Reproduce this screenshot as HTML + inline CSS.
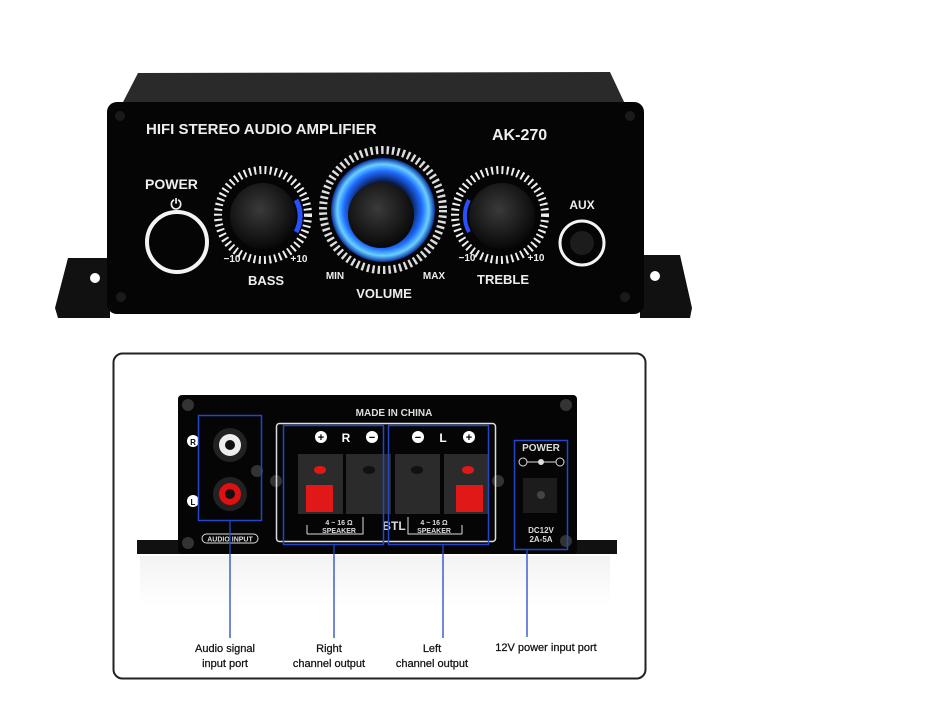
<!DOCTYPE html>
<html><head><meta charset="utf-8"><style>
html,body{margin:0;padding:0;background:#fff;width:950px;height:728px;overflow:hidden}
svg{display:block}
text{font-family:"Liberation Sans",sans-serif}
</style></head><body>
<svg width="950" height="728" viewBox="0 0 950 728" xmlns="http://www.w3.org/2000/svg">
<defs>
<radialGradient id="knob" cx="45%" cy="40%" r="60%"><stop offset="0" stop-color="#3a3a3a"/><stop offset="1" stop-color="#080808"/></radialGradient>
<radialGradient id="blue" cx="50%" cy="50%" r="50%"><stop offset="0.55" stop-color="#0a1a50"/><stop offset="0.75" stop-color="#1e6cff"/><stop offset="0.88" stop-color="#6ad0ff"/><stop offset="1" stop-color="#0830a0"/></radialGradient>
<linearGradient id="ref" x1="0" y1="0" x2="0" y2="1"><stop offset="0" stop-color="#e6e6e6"/><stop offset="1" stop-color="#fff"/></linearGradient>
</defs>
<!-- TOP AMP -->
<path d="M55 308 L68 258 L110 258 L110 318 L58 318 Z" fill="#111"/>
<path d="M692 308 L680 255 L640 255 L640 318 L690 318 Z" fill="#111"/>
<circle cx="95" cy="278" r="5" fill="#fff"/><circle cx="655" cy="276" r="5" fill="#fff"/>
<path d="M138 73 L610 72 L625 104 L122 104 Z" fill="#2a2a2a"/>
<rect x="107" y="102" width="537" height="212" rx="10" fill="#050505"/>
<circle cx="120" cy="116" r="5" fill="#1a1a1a"/><circle cx="630" cy="116" r="5" fill="#1a1a1a"/>
<circle cx="121" cy="297" r="5" fill="#1a1a1a"/><circle cx="625" cy="297" r="5" fill="#1a1a1a"/>
<text x="146" y="134" fill="#eee" font-size="15" font-weight="bold">HIFI STEREO AUDIO AMPLIFIER</text>
<text x="492" y="140" fill="#eee" font-size="16" font-weight="bold">AK-270</text>
<text x="145" y="189" fill="#eee" font-size="14" font-weight="bold">POWER</text>
<text x="176" y="209" fill="#eee" font-size="14" font-weight="bold" text-anchor="middle">⏻</text>
<circle cx="177" cy="242" r="30" fill="#050505" stroke="#f4f4f4" stroke-width="4"/>
<circle cx="263" cy="215" r="45" fill="none" stroke="#eee" stroke-width="8" stroke-dasharray="2 3.2"/>
<circle cx="263" cy="216" r="33" fill="url(#knob)"/>
<path d="M296 200 A33 33 0 0 1 296 232" stroke="#2850ff" stroke-width="5" fill="none"/>
<circle cx="383" cy="210" r="60" fill="none" stroke="#ddd" stroke-width="8" stroke-dasharray="2.4 3"/>
<circle cx="383" cy="210" r="52" fill="url(#blue)"/>
<circle cx="381" cy="215" r="33" fill="url(#knob)"/>
<circle cx="500" cy="215" r="45" fill="none" stroke="#eee" stroke-width="8" stroke-dasharray="2 3.2"/>
<circle cx="502" cy="216" r="33" fill="url(#knob)"/>
<path d="M469 200 A33 33 0 0 0 469 232" stroke="#2850ff" stroke-width="4" fill="none"/>
<circle cx="582" cy="243" r="22" fill="#050505" stroke="#f4f4f4" stroke-width="3"/>
<circle cx="582" cy="243" r="12" fill="#1c1c1c"/>
<g fill="#eee" font-weight="bold" text-anchor="middle">
<text x="232" y="262" font-size="10">−10</text><text x="299" y="262" font-size="10">+10</text>
<text x="266" y="285" font-size="13">BASS</text>
<text x="335" y="279" font-size="10">MIN</text><text x="434" y="279" font-size="10">MAX</text>
<text x="384" y="298" font-size="13">VOLUME</text>
<text x="467" y="261" font-size="10">−10</text><text x="536" y="261" font-size="10">+10</text>
<text x="503" y="284" font-size="13">TREBLE</text>
<text x="582" y="209" font-size="12">AUX</text>
</g>
<!-- BOTTOM BOX -->
<rect x="113.5" y="353.5" width="532" height="325" rx="9" fill="#fff" stroke="#222" stroke-width="2"/>
<rect x="140" y="556" width="470" height="50" fill="url(#ref)" opacity="0.5"/>
<rect x="137" y="540" width="480" height="14" fill="#111"/>
<rect x="178" y="395" width="399" height="159" rx="4" fill="#050505"/>
<g fill="#333"><circle cx="188" cy="405" r="6"/><circle cx="566" cy="405" r="6"/><circle cx="188" cy="543" r="6"/><circle cx="566" cy="541" r="6"/><circle cx="257" cy="471" r="6"/><circle cx="276" cy="481" r="6"/><circle cx="498" cy="481" r="6"/></g>
<text x="394" y="416" fill="#ddd" font-size="10" font-weight="bold" text-anchor="middle">MADE IN CHINA</text>
<circle cx="193" cy="441" r="6" fill="#fff"/><text x="193" y="445" font-size="8" font-weight="bold" text-anchor="middle">R</text>
<circle cx="193" cy="501" r="6" fill="#fff"/><text x="193" y="505" font-size="8" font-weight="bold" text-anchor="middle">L</text>
<circle cx="230" cy="445" r="17" fill="#222"/><circle cx="230" cy="445" r="11" fill="#eee"/><circle cx="230" cy="445" r="5" fill="#111"/>
<circle cx="230" cy="494" r="17" fill="#222"/><circle cx="230" cy="494" r="11" fill="#e01010"/><circle cx="230" cy="494" r="5" fill="#111"/>
<rect x="202" y="534" width="56" height="9" rx="4.5" fill="none" stroke="#ddd"/>
<text x="230" y="541.5" fill="#ddd" font-size="7" font-weight="bold" text-anchor="middle">AUDIO INPUT</text>
<rect x="198.5" y="415.5" width="63" height="105" fill="none" stroke="#2446c8" stroke-width="1.5"/>
<rect x="276.5" y="423.5" width="219" height="118" rx="3" fill="none" stroke="#ddd" stroke-width="1.5"/>
<g fill="#fff" font-weight="bold" font-size="12" text-anchor="middle">
<circle cx="321" cy="437" r="6"/><circle cx="372" cy="437" r="6"/><circle cx="418" cy="437" r="6"/><circle cx="469" cy="437" r="6"/>
<text x="346" y="442">R</text><text x="443" y="442">L</text>
</g>
<g fill="#000" font-weight="bold" font-size="11" text-anchor="middle">
<text x="321" y="441">+</text><text x="372" y="441">−</text><text x="418" y="441">−</text><text x="469" y="441">+</text></g>
<g fill="#2b2b2b"><rect x="298" y="454" width="45" height="60"/><rect x="346" y="454" width="45" height="60"/><rect x="395" y="454" width="45" height="60"/><rect x="444" y="454" width="45" height="60"/></g>
<g fill="#e01818"><rect x="306" y="485" width="27" height="27"/><rect x="456" y="485" width="27" height="27"/><ellipse cx="320" cy="470" rx="6" ry="4"/><ellipse cx="468" cy="470" rx="6" ry="4"/></g>
<g fill="#111"><ellipse cx="369" cy="470" rx="6" ry="4"/><ellipse cx="417" cy="470" rx="6" ry="4"/></g>
<g fill="#ddd" font-weight="bold" text-anchor="middle">
<text x="339" y="525" font-size="7">4 ~ 16 Ω</text><text x="339" y="533" font-size="7">SPEAKER</text>
<text x="434" y="525" font-size="7">4 ~ 16 Ω</text><text x="434" y="533" font-size="7">SPEAKER</text>
<text x="394" y="530" font-size="12">BTL</text></g>
<path d="M307 534 V525 M307 534 H363 V517 M462 534 V525 M462 534 H408 V517" stroke="#ddd" fill="none"/>
<rect x="283.5" y="425.5" width="100" height="119" fill="none" stroke="#2446c8" stroke-width="1.5"/>
<rect x="388.5" y="425.5" width="100" height="119" fill="none" stroke="#2446c8" stroke-width="1.5"/>
<text x="541" y="451" fill="#ddd" font-size="10" font-weight="bold" text-anchor="middle">POWER</text>
<path d="M525 462 H558" stroke="#ddd"/><circle cx="523" cy="462" r="4" fill="#050505" stroke="#ddd"/><circle cx="541" cy="462" r="3" fill="#ddd"/><circle cx="560" cy="462" r="4" fill="#050505" stroke="#ddd"/>
<rect x="523" y="478" width="34" height="35" fill="#1c1c1c"/><circle cx="541" cy="495" r="4" fill="#444"/>
<text x="541" y="533" fill="#ddd" font-size="8" font-weight="bold" text-anchor="middle">DC12V</text>
<text x="541" y="542" fill="#ddd" font-size="8" font-weight="bold" text-anchor="middle">2A-5A</text>
<rect x="514.5" y="440.5" width="53" height="109" fill="none" stroke="#2446c8" stroke-width="1.5"/>
<g stroke="#2446c8" stroke-width="1.3"><path d="M230 520 V638"/><path d="M334 545 V638"/><path d="M443 545 V638"/><path d="M527 550 V637"/></g>
<g fill="#111" font-size="11" text-anchor="middle" stroke="#111" stroke-width="0.25">
<text x="225" y="652">Audio signal</text><text x="225" y="667">input port</text>
<text x="329" y="652">Right</text><text x="329" y="667">channel output</text>
<text x="432" y="652">Left</text><text x="432" y="667">channel output</text>
<text x="546" y="651">12V power input port</text></g>
</svg>
</body></html>
